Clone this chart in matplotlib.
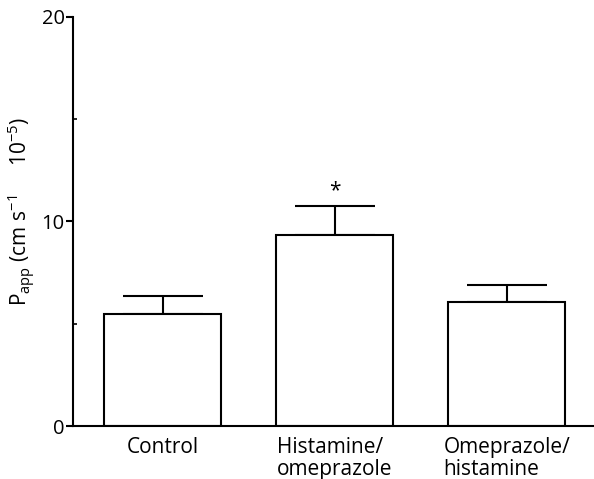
import matplotlib
matplotlib.use("Agg")
import matplotlib.pyplot as plt
from matplotlib.ticker import MultipleLocator

categories = ["Control", "Histamine/\nomeprazole", "Omeprazole/\nhistamine"]
values = [5.5, 9.35, 6.05]
errors = [0.85, 1.4, 0.85]
y_ticks = [0, 10, 20]
significance = ["", "*", ""]

plt.rcParams['font.family'] = ['Open Sans', 'DejaVu Sans']

fig = plt.figure(figsize=(5.94, 4.79), dpi=100)
ax = fig.add_axes([73/594, 1-426/479, 1-73/594, (426-17)/479])

x = list(range(len(categories)))
ax.bar(x, values, width=0.68, color='white', edgecolor='black', linewidth=1.5, zorder=2)
ax.errorbar(x, values, yerr=[[0]*len(errors), errors], fmt='none', ecolor='black',
            elinewidth=1.5, capsize=29, capthick=1.5, zorder=1)
for xi, v, e, s in zip(x, values, errors, significance):
    if s:
        ax.text(xi, v + e + 0.25, s, ha='center', va='bottom', fontsize=15)

ax.set_xlim(-0.523, 2.506)
ax.set_ylim(0, 20)
ax.set_yticks(y_ticks)
ax.yaxis.set_minor_locator(MultipleLocator(5))
ax.set_xticks(x)
ax.set_xticklabels(categories, fontsize=15, linespacing=1.05, multialignment='left')
ax.tick_params(axis='x', length=0, pad=8)
ax.tick_params(axis='y', which='major', direction='out', length=5, width=1.5, labelsize=14.5, pad=1)
ax.tick_params(axis='y', which='minor', direction='in', length=3, width=1.2)
for sp in ['top', 'right']:
    ax.spines[sp].set_visible(False)
for sp in ['left', 'bottom']:
    ax.spines[sp].set_linewidth(1.5)

fig.text(21/594, 1-211/479,
         r'P$_{\mathregular{app}}$ (cm s$^{\mathregular{-1}}$     10$^{\mathregular{-5}}$)',
         rotation=90, ha='center', va='center', fontsize=15)

fig.savefig("out.png", dpi=100)
